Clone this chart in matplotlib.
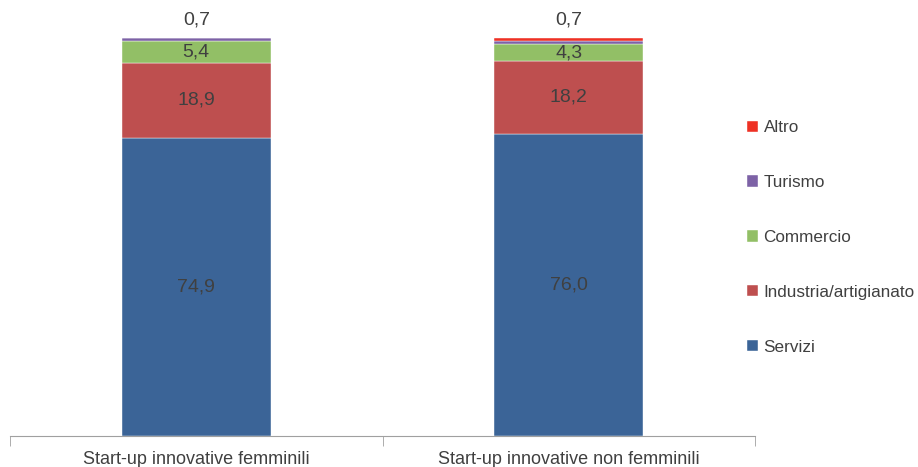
import matplotlib.pyplot as plt
import numpy as np

# --- Data ---
categories = ['Start-up innovative femminili', 'Start-up innovative non femminili']
sectors = ['Servizi', 'Industria/artigianato', 'Commercio', 'Turismo', 'Altro']
servizi = [74.9, 76.0]
industria = [18.9, 18.2]
commercio = [5.4, 4.3]
turismo = [0.7, 0.8]
altro = [0.1, 0.7]
top_labels = [0.7, 0.7]

colors = ['#3B6497', '#BE4F4F', '#92BF66', '#7D62A6', '#EE3124']
text_color = '#404040'

plt.rcParams['font.family'] = ['Liberation Sans', 'DejaVu Sans']

fig = plt.figure(figsize=(9.18, 4.67), dpi=100)
ax = fig.add_axes([10 / 918, 31 / 467, 745 / 918, 398 / 467])

x = np.arange(len(categories))
series = [servizi, industria, commercio, turismo, altro]
bottom = np.zeros(len(categories))
bars = []
for vals, col, name in zip(series, colors, sectors):
    b = ax.bar(x, vals, width=0.4, bottom=bottom, color=col, label=name,
               edgecolor='white', linewidth=0.3)
    bars.append(b)
    bottom += np.array(vals)

def fmt(v):
    return f'{v:.1f}'.replace('.', ',')

# labels inside the three biggest segments
bottom = np.zeros(len(categories))
for vals in series[:3]:
    for i, v in enumerate(vals):
        ax.text(x[i], bottom[i] + v / 2, fmt(v), ha='center', va='center',
                fontsize=14, color=text_color)
    bottom += np.array(vals)
for i, v in enumerate(top_labels):
    ax.text(x[i], 102.3, fmt(v), ha='center', va='bottom', fontsize=14,
            color=text_color, clip_on=False)

ax.set_xlim(-0.5, 1.5)
ax.set_ylim(0, 100)
for s in ['top', 'right', 'left']:
    ax.spines[s].set_visible(False)
ax.spines['bottom'].set_color('#A0A0A0')
ax.set_yticks([])
ax.set_xticks(x)
ax.set_xticklabels(categories, fontsize=13, color=text_color)
ax.tick_params(axis='x', which='major', length=0, pad=11)
ax.set_xticks([-0.5, 0.5, 1.5], minor=True)
ax.tick_params(axis='x', which='minor', length=7, color='#A0A0A0', direction='out')

handles = [bars[i] for i in range(4, -1, -1)]
labels = [sectors[i] for i in range(4, -1, -1)]
fig.legend(handles, labels, loc='upper left', bbox_to_anchor=(732 / 918, 1 - 105 / 467),
           frameon=False, fontsize=12.3, labelcolor=text_color, handlelength=0.65,
           handleheight=0.65, handletextpad=0.3, labelspacing=2.33)

fig.savefig('out.png', dpi=100)
